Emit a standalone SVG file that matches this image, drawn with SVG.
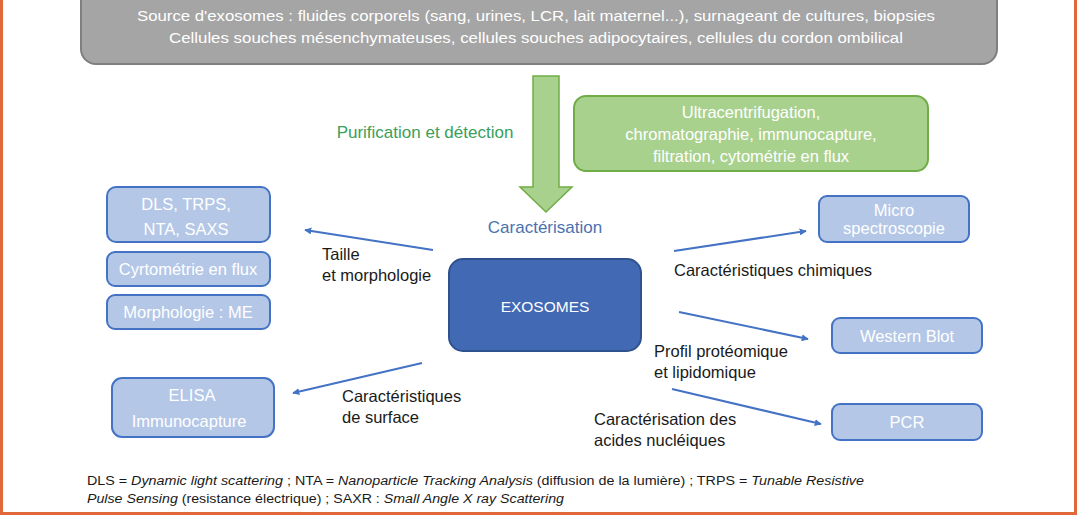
<svg xmlns="http://www.w3.org/2000/svg" width="1078" height="516" viewBox="0 0 1078 516">
<defs>
<style>
text{font-family:"Liberation Sans",Arial,sans-serif;}
.w{fill:#ffffff;font-size:16.5px;text-anchor:middle;}
.k{fill:#1a1a1a;font-size:16.5px;}
.f{fill:#1a1a1a;font-size:12.5px;}
.lb{fill:#b4c7e7;stroke:#4472c4;stroke-width:2;}
.conn{stroke:#4472c4;stroke-width:2;fill:none;marker-end:url(#ah);}
</style>
<marker id="ah" viewBox="0 0 10 10" refX="9" refY="5" markerWidth="7" markerHeight="7" orient="auto" markerUnits="userSpaceOnUse">
<path d="M0,0 L10,5 L0,10 z" fill="#4472c4"/>
</marker>
</defs>
<rect x="0" y="0" width="1078" height="516" fill="#ffffff"/>
<path d="M1.5,0 V513.5 H1075.5 V0" fill="none" stroke="#e0683a" stroke-width="3"/>

<g id="source">
<rect x="81" y="-20" width="916" height="84" rx="15" fill="#a5a5a5" stroke="#7f7f7f" stroke-width="2"/>
<text class="w" x="536" y="21" font-size="15.5" style="font-size:15.5px" textLength="798" lengthAdjust="spacingAndGlyphs">Source d'exosomes : fluides corporels (sang, urines, LCR, lait maternel...), surnageant de cultures, biopsies</text>
<text class="w" x="536" y="43" style="font-size:15.5px" textLength="734" lengthAdjust="spacingAndGlyphs">Cellules souches mésenchymateuses, cellules souches adipocytaires, cellules du cordon ombilical</text>
</g>

<g id="purif-arrow">
<path d="M533,76 H559 V187 H572 L546,212 L520,187 H533 Z" fill="#a9d18e" stroke="#70ad47" stroke-width="1.5"/>
</g>
<text x="425" y="138" fill="#3aa05a" text-anchor="middle" style="font-size:17px">Purification et détection</text>

<g id="purif-methods">
<rect x="574" y="96" width="354" height="75" rx="12" fill="#a9d18e" stroke="#70ad47" stroke-width="2"/>
<text class="w" x="751" y="118">Ultracentrifugation,</text>
<text class="w" x="751" y="140">chromatographie, immunocapture,</text>
<text class="w" x="751" y="162">filtration, cytométrie en flux</text>
</g>

<text x="545" y="233" fill="#4a72b0" text-anchor="middle" style="font-size:17px">Caractérisation</text>

<g id="exosomes">
<rect x="449" y="259" width="192" height="92" rx="14" fill="#4269b3" stroke="#2f528f" stroke-width="2"/>
<text class="w" x="545" y="312" style="font-size:15.5px">EXOSOMES</text>
</g>

<g id="dls">
<rect class="lb" x="107" y="187" width="163" height="55" rx="9"/>
<text class="w" x="186" y="210">DLS,  TRPS,</text>
<text class="w" x="186" y="235">NTA, SAXS</text>
</g>
<g id="cyto">
<rect class="lb" x="107" y="252" width="163" height="34" rx="8"/>
<text class="w" x="188" y="275">Cyrtométrie en flux</text>
</g>
<g id="morpho">
<rect class="lb" x="107" y="295" width="163" height="34" rx="8"/>
<text class="w" x="188" y="318">Morphologie : ME</text>
</g>
<g id="elisa">
<rect class="lb" x="112" y="378" width="162" height="59" rx="10"/>
<text class="w" x="192" y="401">ELISA</text>
<text class="w" x="189" y="427">Immunocapture</text>
</g>
<g id="micro">
<rect class="lb" x="819" y="196" width="150" height="46" rx="8"/>
<text class="w" x="894" y="216">Micro</text>
<text class="w" x="894" y="234">spectroscopie</text>
</g>
<g id="western">
<rect class="lb" x="832" y="318" width="150" height="35" rx="8"/>
<text class="w" x="907" y="342">Western Blot</text>
</g>
<g id="pcr">
<rect class="lb" x="832" y="404" width="150" height="36" rx="8"/>
<text class="w" x="907" y="428">PCR</text>
</g>

<g id="connectors">
<line class="conn" x1="433" y1="250" x2="305" y2="230"/>
<line class="conn" x1="674" y1="251" x2="806" y2="231"/>
<line class="conn" x1="679" y1="312" x2="808" y2="339"/>
<line class="conn" x1="422" y1="363" x2="293" y2="393"/>
<line class="conn" x1="672" y1="389" x2="821" y2="424"/>
</g>

<text class="k" x="322" y="260">Taille</text>
<text class="k" x="322" y="281">et morphologie</text>
<text class="k" x="674" y="276">Caractéristiques chimiques</text>
<text class="k" x="654" y="357">Profil protéomique</text>
<text class="k" x="654" y="378">et lipidomique</text>
<text class="k" x="342" y="402">Caractéristiques</text>
<text class="k" x="342" y="423">de surface</text>
<text class="k" x="594" y="425">Caractérisation des</text>
<text class="k" x="594" y="446">acides nucléiques</text>

<text class="f" x="87" y="485" textLength="777" lengthAdjust="spacingAndGlyphs">DLS = <tspan font-style="italic">Dynamic light scattering</tspan> ; NTA = <tspan font-style="italic">Nanoparticle Tracking Analysis</tspan> (diffusion de la lumière) ; TRPS = <tspan font-style="italic">Tunable Resistive</tspan></text>
<text class="f" x="87" y="503" textLength="477" lengthAdjust="spacingAndGlyphs"><tspan font-style="italic">Pulse Sensing</tspan> (resistance électrique) ; SAXR : <tspan font-style="italic">Small Angle X ray Scattering</tspan></text>
</svg>
